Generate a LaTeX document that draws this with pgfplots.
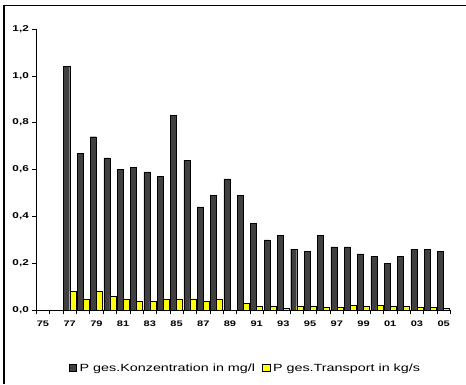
\documentclass[border=0pt]{standalone}
\usepackage{fontspec}
\setmainfont{Liberation Sans}[FakeStretch=1.38]
\usepackage{pgfplots}
\usepackage{pgfplotstable}
\pgfplotsset{compat=1.18}

\definecolor{barDark}{HTML}{404040}
\definecolor{barYellow}{HTML}{FFFF00}

% x: 0 = 1975 ... 30 = 2005
\pgfplotstableread{
x conc
2 1.04
3 0.67
4 0.74
5 0.65
6 0.60
7 0.61
8 0.59
9 0.57
10 0.83
11 0.64
12 0.44
13 0.49
14 0.56
15 0.49
16 0.37
17 0.30
18 0.32
19 0.26
20 0.25
21 0.32
22 0.27
23 0.27
24 0.24
25 0.23
26 0.20
27 0.23
28 0.26
29 0.26
30 0.25
}\conctable

\pgfplotstableread{
x trans
2 0.080
3 0.047
4 0.080
5 0.060
6 0.047
7 0.037
8 0.037
9 0.047
10 0.047
11 0.047
12 0.037
13 0.047
14 0.000
15 0.029
16 0.017
17 0.017
18 0.007
19 0.017
20 0.015
21 0.012
22 0.012
23 0.021
24 0.017
25 0.021
26 0.017
27 0.017
28 0.012
29 0.012
30 0.007
}\transtable

\begin{document}
\begin{tikzpicture}[x=1pt,y=1pt]
\begin{axis}[
  at={(0,0)}, anchor=origin,
  scale only axis,
  width=414pt, height=281pt,
  ybar=0pt,
  bar width=0.45,
  xmin=-0.5, xmax=30.5,
  ymin=0, ymax=1.2,
  axis x line*=bottom,
  axis y line*=left,
  axis line style={black, line width=0.6pt},
  tick align=outside,
  xtick={0,2,...,30},
  xticklabels={75,77,79,81,83,85,87,89,91,93,95,97,99,01,03,05},
  major x tick style={draw=none},
  minor xtick={-0.5,0.5,...,30.5},
  minor tick length=4pt,
  minor x tick style={black, line width=0.6pt},
  ytick={0,0.2,0.4,0.6,0.8,1.0,1.2},
  major tick length=4pt,
  major y tick style={black, line width=0.6pt},
  yticklabel style={font=\bfseries\fontsize{8.5}{10}\selectfont, /pgf/number format/.cd, fixed, fixed zerofill, precision=1, use comma},
  xticklabel style={font=\bfseries\fontsize{8}{10}\selectfont, yshift=-3pt},
  /pgf/number format/assume math mode=true,
  legend style={at={(0.505,-58pt)}, anchor=center, draw=none, fill=none,
    legend columns=2, font=\fontsize{10.4}{12}\selectfont,
    /tikz/every odd column/.append style={column sep=1pt},
    /tikz/every even column/.append style={column sep=5pt}},
  legend image code/.code={\draw[#1, line width=0.5pt] (0pt,-3.7pt) rectangle (7.4pt,3.7pt);},
  legend cell align=left,
]
\addplot[fill=barDark, draw=black, line width=0.4pt] table[x=x, y=conc] {\conctable};
\addplot[fill=barYellow, draw=black, line width=0.4pt] table[x=x, y=trans] {\transtable};
\legend{P ges.Konzentration in mg/l, P ges.Transport in kg/s}
\end{axis}
\draw[line width=1.6pt] (-39,-74) -- (-39,305);
\draw[line width=1pt] (-39,305) -- (423,305);
\pgfresetboundingbox
\path[use as bounding box] (-43,-74) rectangle (423,310);
\end{tikzpicture}
\end{document}
